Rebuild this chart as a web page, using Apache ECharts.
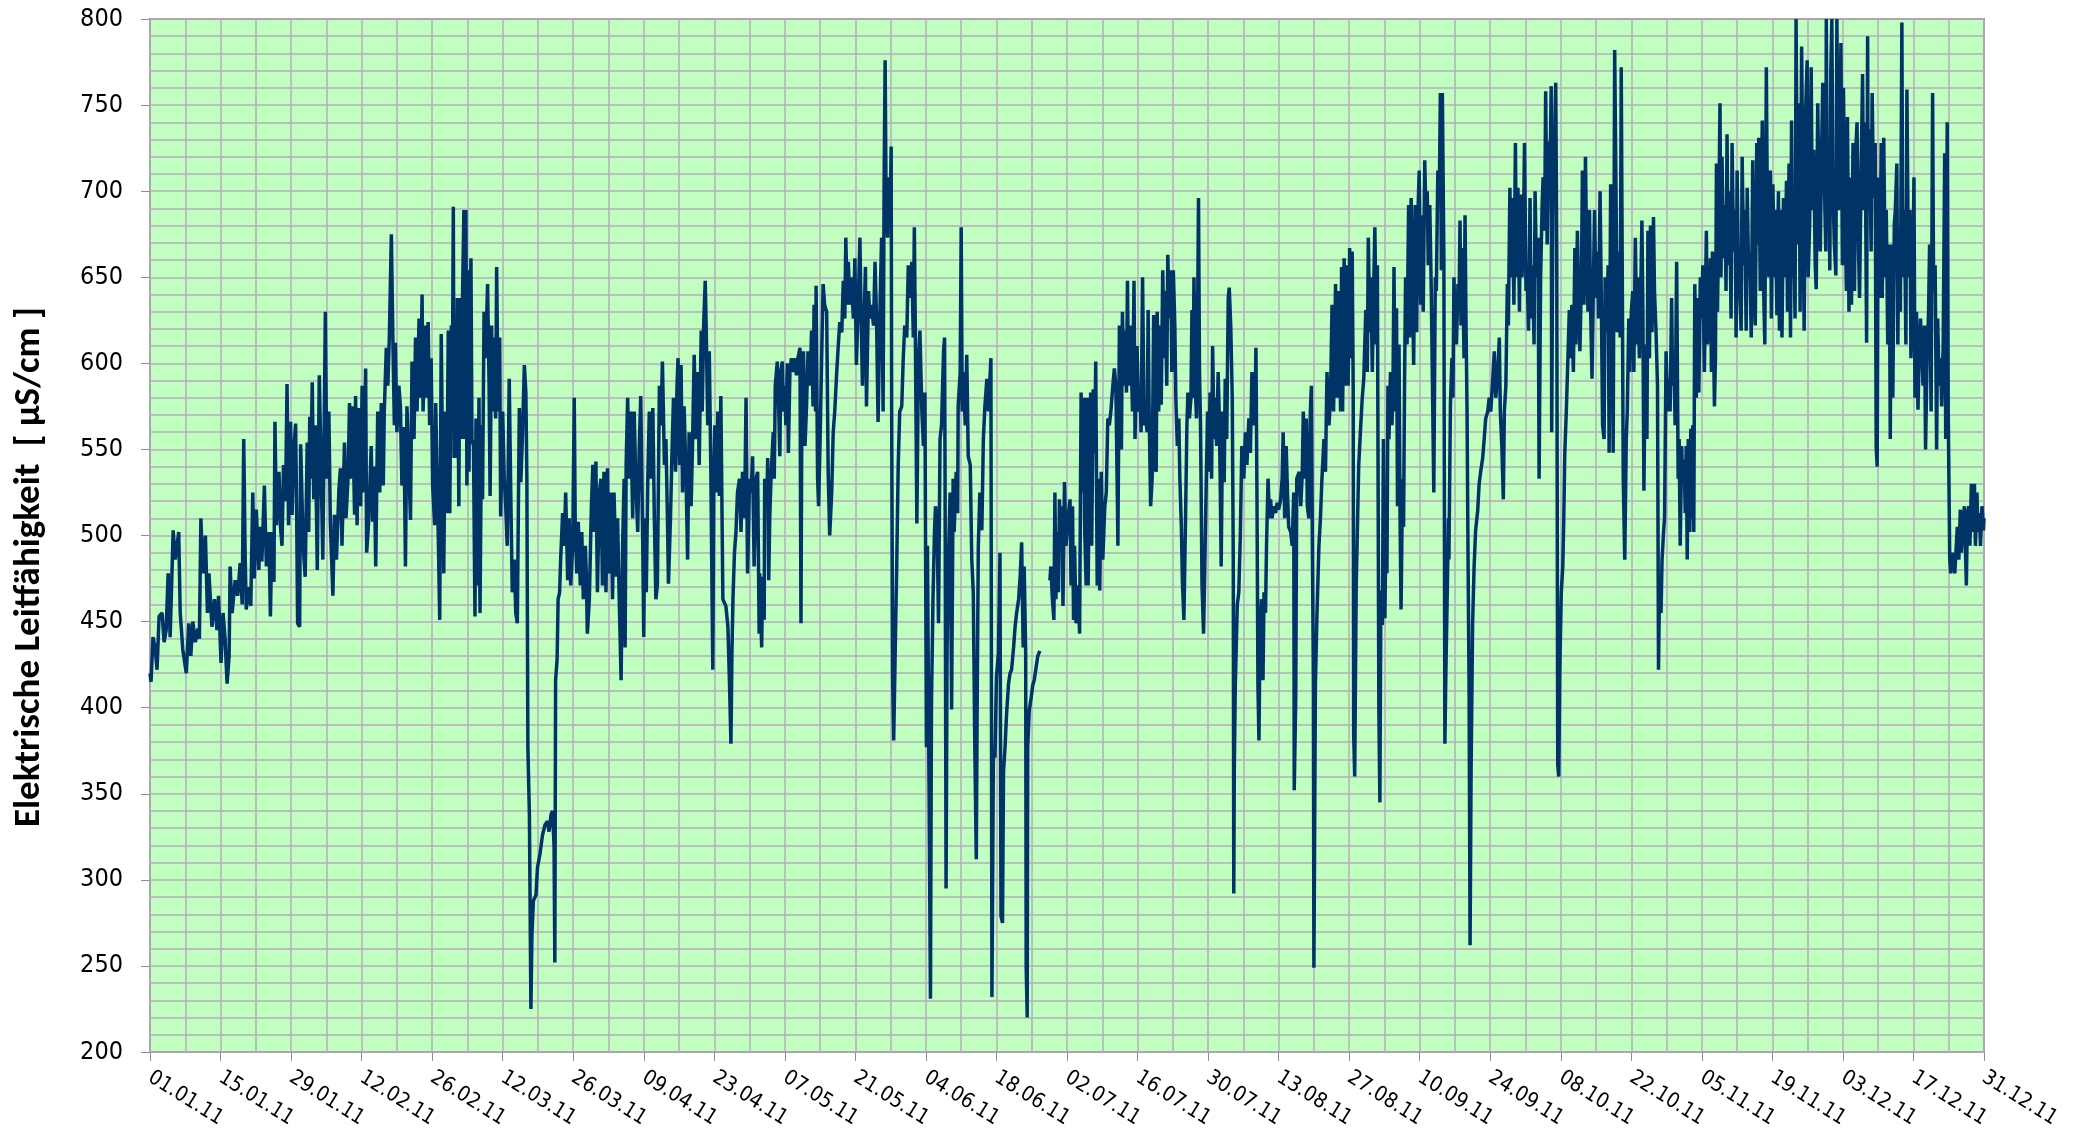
<!DOCTYPE html>
<html>
<head>
<meta charset="utf-8">
<script src="https://cdn.jsdelivr.net/npm/echarts@6/dist/echarts.min.js"></script>
<style>
html,body{margin:0;padding:0;background:#fff;}
#chart{width:2081px;height:1136px;}
</style>
</head>
<body>
<div id="chart"></div>
<script>
// x = day of year 2011 (0 = 01.01.11), y = conductivity in µS/cm
const tickLabels = ['01.01.11','15.01.11','29.01.11','12.02.11','26.02.11','12.03.11','26.03.11','09.04.11','23.04.11','07.05.11','21.05.11','04.06.11','18.06.11','02.07.11','16.07.11','30.07.11','13.08.11','27.08.11','10.09.11','24.09.11','08.10.11','22.10.11','05.11.11','19.11.11','03.12.11','17.12.11','31.12.11'];
const yTitle = 'Elektrische Leitfähigkeit  [ µS/cm ]';

const janFeb = [[0,420],[0.2,415],[0.6,441],[1.0,435],[1.4,422],[1.8,453],[2.4,455],[2.8,438],[3.2,445],[3.6,478],[4.0,441],[4.6,503],[5.0,486],[5.7,502],[6.0,455],[6.5,434],[7.2,420],[7.7,449],[8.1,430],[8.5,450],[9.0,438],[9.5,446],[9.8,440],[10.1,510],[10.5,478],[11.0,500],[11.4,455],[11.7,478],[12.3,447],[12.8,463],[13.3,445],[13.6,465],[14.1,426],[14.5,455],[14.9,440],[15.3,414],[15.7,430],[15.9,482],[16.3,455],[16.9,474],[17.4,465],[17.9,484],[18.3,460],[18.6,556],[18.9,486],[19.1,457],[19.6,470],[20.0,459],[20.4,525],[20.7,475],[21.1,515],[21.6,480],[21.9,505],[22.2,485],[22.7,529],[23.1,482],[23.6,502],[23.9,453],[24.2,502],[24.6,473],[24.8,566],[25.1,506],[25.6,537],[25.9,505],[26.2,494],[26.5,541],[26.9,520],[27.2,588],[27.5,506],[27.9,566],[28.2,512],[28.5,548],[28.9,565],[29.1,515],[29.3,449],[29.7,447],[29.9,553],[30.4,494],[30.8,476],[31.2,554],[31.5,502],[31.7,569],[31.9,533],[32.2,589],[32.5,521],[32.8,564],[33.2,480],[33.6,593],[34.0,533],[34.3,486],[34.8,630],[35.1,533],[35.5,572],[35.8,507],[36.3,465],[36.6,512],[37.0,486],[37.5,527],[37.8,539],[38.1,494],[38.6,554],[38.9,510],[39.3,533],[39.6,577],[39.9,533],[40.2,575],[40.6,512],[40.8,581],[41.1,506],[41.4,574],[41.8,517],[42.1,587],[42.4,525],[42.8,597],[43.0,490],[43.4,508],[43.9,552],[44.2,508],[44.5,540],[44.8,482],[45.2,572],[45.6,525],[45.9,577],[46.3,529],[46.5,572],[46.9,609],[47.2,587],[47.5,615],[47.9,675],[48.2,615],[48.5,564],[48.7,612],[49.0,560],[49.4,587],[49.7,575],[50.0,529],[50.4,563],[50.7,482],[51.0,575],[51.4,537],[51.7,509],[52.0,601],[52.4,556],[52.7,615],[53.0,572],[53.4,626],[53.7,580],[54.0,640],[54.2,572],[54.6,622],[54.9,580],[55.2,624],[55.5,564],[55.8,603],[56.1,529],[56.5,506],[56.7,577],[57.0,533],[57.3,486],[57.5,451],[57.8,617],[58.1,533],[58.3,478],[58.6,572],[58.9,513],[59.2,619],[59.5,513],[59.8,622],[60.0,580],[60.2,691],[60.35,545]];

const marApr = [[60.5,619],[60.75,545],[61.0,638],[61.3,517],[61.5,638],[61.8,556],[62.0,634],[62.3,689],[62.5,556],[62.7,689],[62.9,529],[63.1,654],[63.3,537],[63.7,661],[63.9,556],[64.2,552],[64.5,453],[64.7,568],[65.0,471],[65.3,580],[65.5,455],[65.8,564],[66.0,521],[66.3,630],[66.6,603],[67.0,646],[67.3,587],[67.5,523],[67.8,622],[68.0,572],[68.3,615],[68.6,568],[68.8,656],[69.1,572],[69.4,615],[69.6,511],[70.0,572],[70.3,533],[70.6,517],[70.9,494],[71.3,591],[71.6,525],[71.9,467],[72.3,486],[72.6,455],[72.9,449],[73.3,574],[73.6,531],[73.9,556],[74.3,599],[74.6,583],[74.8,533],[75.0,377],[75.3,338],[75.6,225],[75.8,268],[76.1,288],[76.6,291],[76.9,307],[77.4,315],[77.9,326],[78.4,332],[78.9,334],[79.2,328],[79.6,338],[79.9,340],[80.2,319],[80.35,252],[80.5,416],[80.8,428],[81.0,463],[81.3,467],[81.5,486],[81.9,513],[82.2,494],[82.5,525],[82.9,474],[83.2,510],[83.5,471],[83.9,494],[84.2,580],[84.4,506],[84.7,478],[85.0,508],[85.4,471],[85.7,502],[86.0,463],[86.4,494],[86.6,478],[86.8,443],[87.2,463],[87.4,490],[87.6,517],[87.9,541],[88.2,502],[88.5,543],[88.8,467],[89.2,525],[89.5,533],[89.8,471],[90.1,537],[90.5,467],[90.8,539],[91.1,478],[91.5,525],[91.8,463],[92.1,525],[92.5,476],[92.8,510],[93.1,467],[93.5,416],[93.8,494],[94.1,533],[94.3,435],[94.5,541],[94.8,580],[95.1,533],[95.4,572],[95.8,510],[96.1,572],[96.4,533],[96.8,502],[97.1,552],[97.4,581],[97.8,494],[98.0,441],[98.2,510],[98.5,467],[98.8,533],[99.1,572],[99.4,533],[99.8,574],[100.1,510],[100.4,463],[100.7,471],[101.1,587],[101.4,564],[101.7,601],[102.1,541],[102.4,556],[102.7,510],[102.9,472],[103.3,510],[103.6,548],[103.9,580],[104.3,537],[104.6,587],[104.8,603],[105.1,541],[105.4,599],[105.7,525],[106.0,575],[106.4,533],[106.7,486],[107.0,560],[107.4,517],[107.7,556],[108.0,605],[108.4,556],[108.7,595],[109.0,541],[109.4,619],[109.6,572],[109.9,624],[110.2,648],[110.4,619],[110.7,564],[111.0,607],[111.3,541],[111.7,422],[111.9,533],[112.1,564],[112.4,525],[112.7,572],[113.0,523],[113.3,581],[113.7,463],[114.0,463],[114.3,459],[114.7,447],[115.0,416],[115.3,379],[115.5,432],[115.7,463],[116.0,490],[116.3,502],[116.6,525],[117.0,533],[117.3,502],[117.6,537],[118.0,510],[118.3,580],[118.6,478],[119.0,533],[119.3,525],[119.6,546],[119.9,482],[120.3,533],[120.6,537],[120.9,443],[121.0,478]];

const mayJun = [[121.4,435],[121.6,476],[121.9,451],[122.0,533],[122.4,517],[122.6,545],[122.8,474],[123.0,510],[123.3,537],[123.7,560],[123.9,533],[124.1,587],[124.5,601],[124.8,572],[125.0,546],[125.2,595],[125.5,601],[125.7,572],[126.0,587],[126.2,564],[126.5,600],[126.7,548],[127.0,595],[127.3,603],[127.6,595],[128.0,603],[128.3,593],[128.6,603],[129.0,609],[129.2,449],[129.4,591],[129.7,607],[130.0,552],[130.3,575],[130.6,607],[131.0,587],[131.3,619],[131.6,575],[131.8,634],[132.1,572],[132.2,645],[132.5,533],[132.7,517],[133.0,556],[133.3,603],[133.6,646],[133.9,634],[134.3,630],[134.6,537],[134.9,500],[135.3,525],[135.6,560],[135.9,572],[136.3,595],[136.6,610],[136.9,624],[137.3,618],[137.6,648],[137.9,626],[138.1,673],[138.4,634],[138.6,659],[138.9,634],[139.2,650],[139.6,626],[139.9,661],[140.2,599],[140.6,638],[140.9,673],[141.1,634],[141.4,587],[141.7,622],[142.0,656],[142.2,575],[142.6,642],[142.9,626],[143.2,634],[143.6,622],[143.9,659],[144.2,626],[144.5,566],[144.9,634],[145.2,673],[145.5,572],[145.7,704],[145.9,776],[146.1,692],[146.4,673],[146.6,708],[146.9,681],[147.1,726],[147.2,572],[147.4,416],[147.6,381],[147.9,432],[148.2,482],[148.5,541],[148.8,572],[149.2,575],[149.5,603],[149.8,622],[150.2,615],[150.5,657],[150.8,638],[151.2,659],[151.5,615],[151.7,679],[151.9,618],[152.2,507],[152.5,599],[152.8,619],[153.2,572],[153.5,552],[153.8,583],[154.1,377],[154.3,494],[154.6,494],[154.9,231],[155.1,402],[155.4,463],[155.7,502],[155.9,517],[156.2,510],[156.5,449],[156.8,556],[157.1,564],[157.5,607],[157.7,615],[157.8,533],[158.0,295],[158.2,435],[158.4,478],[158.8,525],[159.1,399],[159.4,533],[159.6,502],[160.0,537],[160.3,513],[160.4,575],[160.8,595],[161.0,679],[161.2,572],[161.4,595],[161.8,564],[162.1,605],[162.4,546],[162.8,541],[163.1,486],[163.4,467],[163.7,378],[164.0,312],[164.2,416],[164.4,494],[164.7,525],[165.1,503],[165.4,556],[165.7,575],[166.1,591],[166.4,572],[166.7,591],[166.9,603],[167.1,232],[167.4,377],[167.7,371],[168.0,418],[168.4,432],[168.7,490],[168.9,279],[169.2,275],[169.4,363],[169.7,377],[170.0,396],[170.4,414],[170.7,420],[171.0,422],[171.4,435],[171.7,447],[172.0,455],[172.4,463],[172.7,476],[173.0,496],[173.3,435],[173.5,482],[173.8,432],[173.9,250],[174.1,220],[174.2,377],[174.5,398],[174.9,406],[175.2,413],[175.5,416],[175.9,424],[176.2,430],[176.6,433],[177.6,'-'],[178.6,474],[178.8,482],[179.1,463],[179.4,451],[179.6,525],[179.8,463],[180.1,502],[180.3,467],[180.5,521],[180.8,494],[181.0,517],[181.2,459],[181.5,531],[181.8,494],[182.2,510]];

const julAug = [[182.6,521],[182.8,471],[183.1,517],[183.3,451],[183.5,494],[183.8,449],[184.2,471],[184.5,443],[184.8,583],[185.1,525],[185.3,580],[185.5,505],[185.8,471],[186.0,580],[186.2,471],[186.4,533],[186.7,583],[186.9,494],[187.2,585],[187.5,548],[187.7,601],[188.0,471],[188.3,533],[188.5,468],[188.8,537],[189.1,486],[189.5,517],[189.8,525],[190.1,568],[190.4,564],[190.7,572],[191.1,587],[191.4,597],[191.7,587],[192.0,521],[192.1,494],[192.4,622],[192.6,591],[192.8,550],[193.0,630],[193.3,587],[193.6,619],[193.8,583],[194.0,648],[194.2,587],[194.5,622],[194.8,595],[195.0,572],[195.3,648],[195.5,556],[195.9,610],[196.2,572],[196.5,587],[196.7,560],[197.0,650],[197.3,564],[197.5,572],[197.9,560],[198.1,631],[198.3,572],[198.6,517],[198.9,533],[199.2,628],[199.4,541],[199.7,537],[199.9,630],[200.2,572],[200.5,622],[200.7,576],[201.0,654],[201.3,603],[201.5,642],[201.8,587],[202.0,663],[202.3,626],[202.6,654],[202.8,595],[203.1,654],[203.4,622],[203.6,580],[203.9,552],[204.2,568],[204.4,533],[204.7,505],[204.9,474],[205.2,451],[205.5,505],[205.8,564],[206.0,583],[206.3,568],[206.6,580],[206.8,631],[207.0,580],[207.2,650],[207.5,583],[207.7,568],[207.9,618],[208.1,696],[208.3,595],[208.5,564],[208.8,471],[209.1,443],[209.3,474],[209.6,525],[209.9,572],[210.1,537],[210.4,583],[210.7,533],[210.9,610],[211.2,556],[211.4,580],[211.7,552],[212.0,595],[212.2,572],[212.4,533],[212.6,482],[212.9,572],[213.2,531],[213.4,591],[213.7,556],[214.0,638],[214.2,644],[214.5,622],[214.8,580],[215.0,486],[215.1,292],[215.2,363],[215.4,413],[215.8,460],[216.1,467],[216.4,500],[216.7,552],[217.1,533],[217.4,560],[217.7,541],[218.1,568],[218.4,548],[218.7,595],[219.1,564],[219.3,572],[219.5,609],[219.7,525],[219.9,412],[220.1,381],[220.3,443],[220.6,463],[220.9,416],[221.1,467],[221.4,455],[221.6,494],[221.9,533],[222.2,510],[222.4,521],[222.7,510],[223.0,517],[223.4,513],[223.7,519],[224.0,515],[224.4,521],[224.7,533],[224.9,560],[225.2,510],[225.5,552],[225.8,521],[226.0,505],[226.4,502],[226.7,494],[227.0,525],[227.1,352],[227.4,406],[227.6,533],[227.9,533],[228.1,537],[228.4,517],[228.7,537],[228.9,572],[229.2,533],[229.5,568],[229.7,517],[230.0,510],[230.3,572],[230.5,587],[230.7,494],[230.9,416],[231.0,249],[231.1,300],[231.3,413],[231.6,453],[232.0,494],[232.3,510],[232.6,533],[233.0,556],[233.3,537],[233.6,595],[234.0,564],[234.3,580],[234.6,634],[234.9,572],[235.3,646],[235.6,580],[235.9,642],[236.3,572],[236.5,656],[236.7,572],[237.0,661],[237.3,587],[237.5,657],[237.8,587],[238.1,667],[238.3,603],[238.6,665],[238.8,587],[238.9,385],[239.1,360],[239.4,471],[239.7,513],[239.9,541],[240.3,564],[240.6,580],[240.9,591],[241.3,631],[241.6,595],[241.8,673],[242.1,618],[242.3,650],[242.6,595],[242.8,634],[243.1,679],[243.4,611],[243.6,657]];

const sepOct = [[243.9,398],[244.1,345],[244.3,468],[244.6,448],[244.8,556],[245.1,452],[245.3,510],[245.5,478],[245.7,587],[245.9,556],[246.2,595],[246.5,564],[246.7,587],[246.9,656],[247.1,572],[247.4,632],[247.6,517],[247.9,611],[248.1,511],[248.3,457],[248.6,533],[248.8,505],[249.0,591],[249.2,650],[249.5,611],[249.8,692],[250.0,615],[250.3,696],[250.6,642],[250.8,599],[251.1,692],[251.4,618],[251.6,682],[251.9,712],[252.2,634],[252.4,686],[252.7,630],[253.0,718],[253.2,692],[253.5,700],[253.7,657],[254.0,692],[254.3,642],[254.5,642],[254.8,525],[255.1,650],[255.3,642],[255.6,712],[255.9,700],[256.1,757],[256.3,654],[256.5,757],[256.8,661],[257.0,379],[257.2,421],[257.5,472],[257.7,510],[257.8,486],[258.1,576],[258.4,603],[258.6,580],[258.8,650],[259.0,622],[259.3,611],[259.6,646],[259.8,630],[260.0,683],[260.2,622],[260.5,667],[260.8,603],[261.0,686],[261.2,622],[261.4,572],[261.6,486],[261.8,413],[262.0,262],[262.2,363],[262.5,448],[262.8,482],[263.1,503],[263.5,514],[263.8,530],[264.1,537],[264.5,545],[264.8,556],[265.1,568],[265.5,572],[265.8,580],[266.1,572],[266.5,591],[266.8,607],[267.1,580],[267.5,595],[267.8,615],[268.0,572],[268.3,552],[268.6,521],[268.8,572],[269.1,587],[269.4,646],[269.6,622],[269.9,702],[270.2,650],[270.4,696],[270.7,634],[271.0,728],[271.2,650],[271.5,702],[271.8,630],[272.0,698],[272.3,650],[272.6,677],[272.8,728],[273.1,642],[273.3,657],[273.6,619],[273.9,696],[274.1,626],[274.4,657],[274.7,611],[274.9,700],[275.2,650],[275.5,673],[275.7,533],[276.0,650],[276.3,692],[276.5,708],[276.8,677],[277.0,758],[277.3,669],[277.6,729],[277.8,696],[278.1,761],[278.2,560],[278.5,727],[278.8,737],[279.0,763],[279.2,665],[279.4,367],[279.6,360],[279.8,421],[280.1,467],[280.4,482],[280.6,510],[280.8,548],[281.1,572],[281.4,572],[281.7,631],[282.0,603],[282.2,634],[282.5,595],[282.8,667],[283.0,611],[283.3,677],[283.5,642],[283.8,607],[284.1,650],[284.3,712],[284.6,634],[284.9,720],[285.1,673],[285.4,630],[285.7,689],[285.9,634],[286.2,591],[286.5,650],[286.7,689],[287.0,638],[287.3,665],[287.5,626],[287.8,700],[288.0,650],[288.3,564],[288.6,556],[288.8,650],[289.1,618],[289.4,657],[289.6,548],[289.9,704],[290.2,650],[290.4,548],[290.7,782],[291.0,689],[291.2,618],[291.5,665],[291.8,615],[292.0,772],[292.2,657],[292.4,533],[292.7,486],[293.0,556],[293.2,572],[293.5,626],[293.7,595],[294.0,630],[294.3,642],[294.5,595],[294.8,673],[295.1,611],[295.3,650],[295.6,603],[295.9,646],[296.1,683],[296.3,630],[296.5,526],[296.8,611],[297.1,556],[297.3,677],[297.6,603],[297.8,680],[298.1,618],[298.4,685],[298.6,642],[298.9,619],[299.2,587],[299.4,422],[299.6,472],[299.9,455],[300.1,486],[300.4,502],[300.6,510],[300.9,607],[301.2,572],[301.4,591],[301.7,572],[302.0,638],[302.2,587],[302.5,595],[302.7,564],[303.0,659],[303.3,533],[303.5,556],[303.7,494],[304.0,552],[304.2,533],[304.5,544],[304.7,513]];

const novDec = [[304.9,552],[305.1,486],[305.3,556],[305.6,502],[305.8,562],[306.0,510],[306.2,564],[306.4,502],[306.6,646],[306.9,580],[307.1,638],[307.4,583],[307.7,650],[307.9,626],[308.2,657],[308.5,595],[308.7,634],[308.9,677],[309.1,611],[309.4,626],[309.7,661],[309.9,595],[310.1,665],[310.3,618],[310.5,575],[310.7,603],[310.9,716],[311.1,630],[311.4,696],[311.6,751],[311.8,650],[312.0,720],[312.3,661],[312.6,692],[312.8,642],[313.0,733],[313.2,657],[313.5,700],[313.8,626],[314.0,728],[314.3,665],[314.6,689],[314.8,615],[315.0,712],[315.2,665],[315.5,642],[315.8,619],[316.0,720],[316.3,657],[316.5,689],[316.8,619],[317.0,702],[317.3,650],[317.5,665],[317.8,615],[318.1,718],[318.3,650],[318.6,622],[318.9,728],[319.1,669],[319.3,731],[319.6,642],[319.8,700],[320.0,741],[320.3,638],[320.5,611],[320.8,772],[321.0,689],[321.3,650],[321.6,712],[321.8,626],[322.1,704],[322.4,650],[322.6,689],[322.9,628],[323.2,700],[323.4,619],[323.7,689],[323.9,615],[324.2,696],[324.5,650],[324.8,706],[325.0,630],[325.3,716],[325.6,615],[325.8,741],[326.0,650],[326.2,685],[326.5,626],[326.7,800],[327.0,669],[327.3,751],[327.5,630],[327.8,784],[328.1,689],[328.3,619],[328.6,747],[328.9,776],[329.1,650],[329.4,681],[329.7,772],[329.9,689],[330.2,724],[330.5,657],[330.7,643],[331.0,751],[331.3,689],[331.5,665],[331.8,728],[332.0,763],[332.3,708],[332.6,665],[332.7,800],[332.9,692],[333.1,728],[333.4,654],[333.6,770],[333.8,800],[334.0,704],[334.3,669],[334.6,651],[334.8,800],[335.1,689],[335.4,728],[335.6,786],[335.9,657],[336.1,760],[336.4,689],[336.7,642],[336.9,743],[337.2,630],[337.5,708],[337.7,634],[338.0,728],[338.3,642],[338.5,720],[338.8,740],[339.1,665],[339.3,638],[339.6,708],[339.9,768],[340.1,689],[340.4,740],[340.7,612],[340.9,790],[341.0,689],[341.3,736],[341.6,665],[341.8,757],[342.1,696],[342.4,728],[342.6,552],[342.8,540],[343.0,708],[343.3,638],[343.6,728],[343.8,638],[344.1,731],[344.4,650],[344.6,689],[344.9,611],[345.2,669],[345.4,556],[345.6,669],[345.9,580],[346.2,681],[346.4,689],[346.7,716],[346.9,611],[347.1,677],[347.4,630],[347.7,798],[347.9,650],[348.2,689],[348.5,611],[348.7,759],[349.0,650],[349.3,689],[349.5,603],[349.8,630],[350.1,708],[350.3,580],[350.6,630],[350.9,573],[351.1,603],[351.4,626],[351.6,611],[351.9,587],[352.2,622],[352.4,550],[352.7,603],[353.0,630],[353.2,669],[353.5,572],[353.8,757],[354.0,642],[354.3,657],[354.6,550],[354.8,626],[355.1,587],[355.4,603],[355.6,575],[355.9,611],[356.2,722],[356.4,556],[356.7,740],[356.9,572],[357.2,486],[357.4,478],[357.7,486],[357.9,490],[358.2,478],[358.5,494],[358.7,505],[359.0,486],[359.3,515],[359.5,490],[359.8,505],[360.1,517],[360.3,494],[360.5,471],[360.7,513],[361.0,517],[361.2,494],[361.5,530],[361.8,502],[362.1,530],[362.3,494],[362.6,525],[362.8,502],[363.1,513],[363.3,494],[363.6,517],[363.9,503],[364.0,510]];

const seriesData = [].concat(janFeb, marApr, mayJun, julAug, sepOct, novDec);

const gridColor = '#b5afba';
const tickFont = '"DejaVu Sans Condensed", "Liberation Sans", sans-serif';
const chart = echarts.init(document.getElementById('chart'), null, {renderer: 'canvas'});
chart.setOption({
  animation: false,
  backgroundColor: '#ffffff',
  grid: {
    left: 150, right: 97, top: 19, bottom: 84,
    show: true, backgroundColor: '#c0ffc0', borderColor: '#8e8e8e', borderWidth: 2
  },
  graphic: [{
    type: 'text',
    x: 30, y: 567,
    rotation: Math.PI / 2,
    style: {
      text: yTitle,
      font: 'bold 37px Carlito, Lato, "Open Sans", sans-serif',
      fill: '#000',
      textAlign: 'center',
      textVerticalAlign: 'middle'
    }
  }],
  xAxis: {
    type: 'value', min: 0, max: 364, interval: 14,
    axisLine: {show: false},
    axisTick: {show: true, length: 9, lineStyle: {color: '#8e8e8e', width: 1}},
    minorTick: {show: false, splitNumber: 2},
    splitLine: {show: true, lineStyle: {color: gridColor, width: 1.5}},
    minorSplitLine: {show: true, lineStyle: {color: gridColor, width: 1.5}},
    axisLabel: {
      rotate: -32, margin: 24, fontSize: 21, color: '#000',
      fontFamily: tickFont,
      showMinLabel: true, showMaxLabel: true,
      formatter: v => tickLabels[Math.round(v / 14)] || ''
    }
  },
  yAxis: {
    type: 'value', min: 200, max: 800, interval: 50,
    axisLine: {show: false},
    axisTick: {show: true, length: 9, lineStyle: {color: '#8e8e8e', width: 1}},
    minorTick: {show: false, splitNumber: 5},
    splitLine: {show: true, lineStyle: {color: gridColor, width: 1.5}},
    minorSplitLine: {show: true, lineStyle: {color: gridColor, width: 1.5}},
    axisLabel: {
      margin: 27, fontSize: 25, color: '#000',
      fontFamily: tickFont
    }
  },
  series: [{
    type: 'line',
    data: seriesData,
    showSymbol: false,
    connectNulls: false,
    clip: true,
    lineStyle: {color: '#003366', width: 3.5},
    itemStyle: {color: '#003366'}
  }]
});
</script>
</body>
</html>
